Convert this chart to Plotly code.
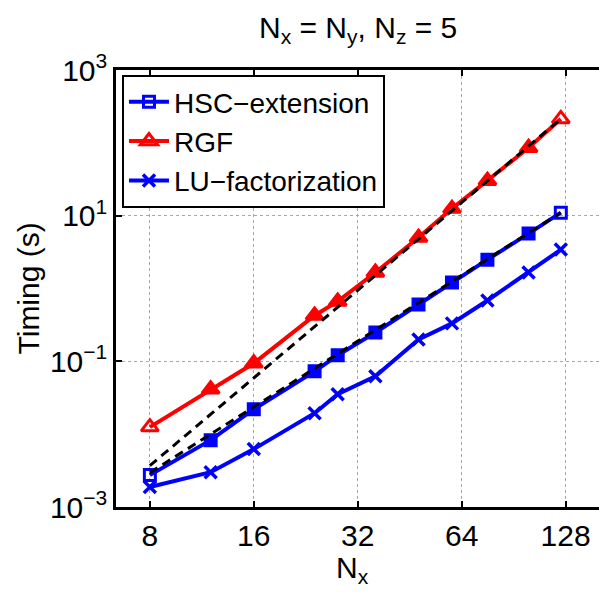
import plotly.graph_objects as go

# Problem sizes (N_x = N_y, N_z = 5)
n_x = [8, 12, 16, 24, 28, 36, 48, 60, 76, 100, 124]

# Timings in seconds
hsc_extension = [2.74e-3, 8.28e-3, 0.022, 0.0729, 0.121, 0.249, 0.604, 1.21, 2.49, 5.67, 11.0]
rgf = [0.0125, 0.0413, 0.094, 0.427, 0.664, 1.66, 5.0, 12.5, 30.2, 85.5, 213]
lu_factorization = [1.88e-3, 3.01e-3, 6.24e-3, 0.0194, 0.0353, 0.0624, 0.2, 0.332, 0.685, 1.66, 3.42]

# Reference scaling lines (O(N^4) and O(N^3)), endpoints only
ref_x = [8, 124]
ref_n4 = [3.7e-3, 213]
ref_n3 = [2.96e-3, 11.0]

x_ticks = [8, 16, 32, 64, 128]
y_tickvals = [1e-3, 1e-1, 1e1, 1e3]
y_ticktext = ["10<sup>−3</sup>", "10<sup>−1</sup>", "10<sup>1</sup>", "10<sup>3</sup>"]

FONT = "Liberation Sans, Arial, sans-serif"
BLUE = "#0000ff"
RED = "#ff0000"

W, H = 599, 593
L, R, T, B = 116, 0, 70, 86


def end_open(base, n):
    """Open marker at both ends of a line, filled look where the thick line runs through."""
    return [base + "-open" if i in (0, n - 1) else base for i in range(n)]


fig = go.Figure()

fig.add_trace(go.Scatter(
    x=n_x, y=hsc_extension, name="HSC−extension", mode="lines+markers",
    line=dict(color=BLUE, width=4),
    marker=dict(symbol=end_open("square", len(n_x)), size=11, color=BLUE,
                line=dict(width=3, color=BLUE)),
))
fig.add_trace(go.Scatter(
    x=n_x, y=rgf, name="RGF", mode="lines+markers",
    line=dict(color=RED, width=4),
    marker=dict(symbol=end_open("triangle-up", len(n_x)), size=15, color=RED,
                line=dict(width=3, color=RED)),
))
fig.add_trace(go.Scatter(
    x=n_x, y=lu_factorization, name="LU−factorization", mode="lines+markers",
    line=dict(color=BLUE, width=4),
    marker=dict(symbol="x-thin-open", size=12, color=BLUE, line=dict(width=3.5, color=BLUE)),
))
for ref in (ref_n4, ref_n3):
    fig.add_trace(go.Scatter(
        x=ref_x, y=ref, mode="lines", showlegend=False, hoverinfo="skip",
        line=dict(color="black", width=3, dash="9px,6px"),
    ))

fig.update_xaxes(
    type="log", range=[0.805, 2.204],
    tickvals=x_ticks, ticktext=[str(v) for v in x_ticks],
    ticks="inside", ticklen=6, tickwidth=1.5, tickcolor="black",
    showline=True, linecolor="black", linewidth=2.5, mirror="ticks",
    showgrid=True, gridcolor="#a8a8a8", griddash="dot", gridwidth=1,
    zeroline=False,
    tickfont=dict(family=FONT, size=30, color="black"),
)
fig.update_yaxes(
    type="log", range=[-3, 3],
    tickvals=y_tickvals, ticktext=y_ticktext,
    ticks="inside", ticklen=6, tickwidth=1.5, tickcolor="black",
    showline=True, linecolor="black", linewidth=2.5, mirror=False,
    showgrid=True, gridcolor="#a8a8a8", griddash="dot", gridwidth=1,
    zeroline=False,
    tickfont=dict(family=FONT, size=30, color="black"),
)

fig.update_layout(
    width=W, height=H,
    margin=dict(l=L, r=R, t=T, b=B, pad=0),
    paper_bgcolor="white", plot_bgcolor="white",
    font=dict(family=FONT, size=28, color="black"),
    showlegend=True,
    legend=dict(
        x=0.0124, y=0.9886, xanchor="left", yanchor="top",
        bgcolor="white", bordercolor="black", borderwidth=2,
        font=dict(family=FONT, size=28, color="black"),
        tracegroupgap=0, itemwidth=40,
    ),
    annotations=[
        dict(text="N<sub>x</sub> = N<sub>y</sub>, N<sub>z</sub> = 5",
             xref="paper", yref="paper", x=0.5, y=1 + 20 / (H - T - B),
             xanchor="center", yanchor="bottom", showarrow=False,
             font=dict(family=FONT, size=30, color="black")),
        dict(text="N<sub>x</sub>",
             xref="paper", yref="paper", x=0.49, y=-42 / (H - T - B),
             xanchor="center", yanchor="top", showarrow=False,
             font=dict(family=FONT, size=30, color="black")),
        dict(text="Timing (s)", textangle=-90,
             xref="paper", yref="paper", x=(28 - L) / (W - L - R), y=0.5,
             xanchor="center", yanchor="middle", showarrow=False,
             font=dict(family=FONT, size=30, color="black")),
    ],
)

fig.write_html("out.html")
